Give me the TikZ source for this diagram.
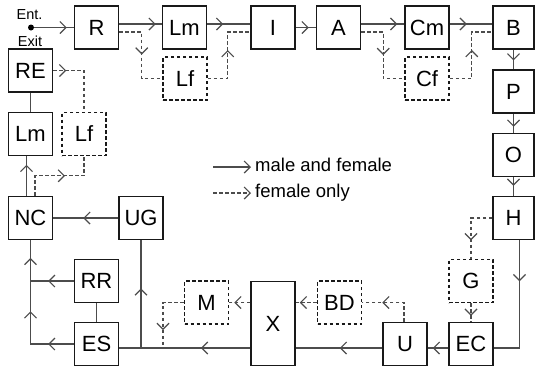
\documentclass[tikz,border=0pt]{standalone}
\usepackage{fontspec}
\setmainfont{Liberation Sans}
\usetikzlibrary{arrows.meta,decorations.markings,calc}
\newcommand{\mytip}{\arrow{Straight Barb[length=6pt,width=12pt]}}
\tikzset{
  box/.style={draw=black!90, line width=1.5pt, minimum width=44pt, minimum height=43pt, inner sep=0pt, font=\fontsize{22}{24}\selectfont},
  fbox/.style={box, dash pattern=on 3.5pt off 2.5pt},
  rbox/.style={box, minimum width=41pt},
  ml/.style={draw=black!70, line width=1.2pt},
  fl/.style={ml, dash pattern=on 3.5pt off 2.5pt},
  tipat/.style={postaction={decorate, decoration={markings, mark=at position #1 with {\mytip}}}},
  tipattwo/.style 2 args={postaction={decorate, decoration={markings, mark=at position #1 with {\mytip}, mark=at position #2 with {\mytip}}}},
  legtext/.style={anchor=west, inner sep=0pt, text height=13pt, text depth=3.5pt, font=\fontsize{18.5}{20}\selectfont},
  small/.style={inner sep=0pt, font=\fontsize{14.5}{16}\selectfont}
}
\begin{document}
\begin{tikzpicture}[x=1pt,y=-1pt]
\useasboundingbox (0,0) rectangle (535,368);
% entry
\node[circle, fill=black, inner sep=0pt, minimum size=6pt] (dot) at (31,27.5) {};
\node[small] (ent) at (29.5,14.5) {Ent.};
\node[small] (exit) at (30,41.5) {Exit};
% boxes
\node[box] (R) at (96.5,27.5) {R};
\node[box] (Lm1) at (184.5,27.5) {Lm};
\node[box] (I) at (273,27.5) {I};
\node[box] (A) at (338.5,27.5) {A};
\node[box] (Cm) at (427,27.5) {Cm};
\node[rbox] (B) at (513.5,27.5) {B};
\node[fbox] (Lf1) at (185,78.5) {Lf};
\node[fbox] (Cf) at (427,78.5) {Cf};
\node[rbox] (P) at (513.5,91.7) {P};
\node[rbox] (O) at (513.5,155) {O};
\node[rbox] (H) at (513.5,218) {H};
\node[fbox] (G) at (471,281) {G};
\node[box] (EC) at (471,344) {EC};
\node[box] (U) at (405,344) {U};
\node[fbox] (BD) at (339.5,302.5) {BD};
\node[box, minimum height=84pt] (X) at (273,323.7) {X};
\node[fbox] (M) at (206.5,302.5) {M};
\node[box] (ES) at (96.5,344) {ES};
\node[box] (RR) at (96.5,281) {RR};
\node[box] (UG) at (141,218) {UG};
\node[box] (NC) at (30.5,218) {NC};
\node[box] (Lm2) at (30.5,134) {Lm};
\node[fbox] (Lf2) at (84,134) {Lf};
\node[box] (RE) at (30.5,70.5) {RE};
% helper coordinates
\coordinate (bl) at ([yshift=-4pt]ES.east);
\coordinate (mj) at (163,0);
% top row solid
\draw[ml, tipat=-7pt] (dot) -- (R.west);
\draw[ml, tipat=-6pt] ([yshift=3.5pt]R.east) -- ([yshift=3.5pt]Lm1.west);
\draw[ml, tipat=16pt] ([yshift=3.5pt]Lm1.east) -- ([yshift=3.5pt]I.west);
\draw[ml, tipat=13pt] (I.east) -- (A.west);
\draw[ml, tipat=-7pt] ([yshift=3.5pt]A.east) -- ([yshift=3.5pt]Cm.west);
\draw[ml, tipat=17pt] ([yshift=3.5pt]Cm.east) -- ([yshift=3.5pt]B.west);
% top row dashed
\draw[fl, tipat=45pt] ([yshift=-4.5pt]R.east) -- ++(22.5,0) |- (Lf1.west);
\draw[fl, tipat=48.5pt] (Lf1.east) -- ++(20,0) |- ([yshift=-4.5pt]I.west);
\draw[fl, tipat=45pt] ([yshift=-4.5pt]A.east) -- ++(22,0) |- (Cf.west);
\draw[fl, tipat=50.5pt] (Cf.east) -- ++(22,0) |- ([yshift=-4.5pt]B.west);
% right column
\draw[ml, tipat=-9pt] (B.south) -- (P.north);
\draw[ml, tipat=-6pt] (P.south) -- (O.north);
\draw[ml, tipat=-10pt] (O.south) -- (H.north);
\draw[fl, tipat=43.5pt] (H.west) -| (G.north);
\draw[ml, tipat=41pt] ([xshift=6pt]H.south) |- ([yshift=-4pt]EC.east);
\draw[fl, tipat=-6pt] (G.south) -- (EC.north);
% bottom row
\draw[ml, tipat=-5pt] ([yshift=-4pt]EC.west) -- ([yshift=-4pt]U.east);
\draw[fl, tipat=41pt] ([xshift=-1pt]U.north) |- (BD.east);
\draw[fl, tipat=-4pt] (BD.west) -- (X.east |- BD.west);
\draw[ml, tipat=-44pt] ([yshift=-4pt]U.west) -- (X.east |- bl);
\draw[fl, tipat=-5pt] (X.west |- M.east) -- (M.east);
\draw[fl, tipat=-18pt] (M.west) -| (mj |- bl);
\draw[ml, tipat=49.3pt] (X.west |- bl) -- (bl);
\draw[ml, tipat=59.7pt] (UG.south |- bl) -- (UG.south);
\draw[ml, tipat=-30pt] (UG.west) -- (NC.east);
% left column
\draw[ml, tipattwo={25.7pt}{76pt}] (ES.west) -| (NC.south);
\draw[ml, tipattwo={25.7pt}{66.4pt}] (RR.west) -| (NC.south);
\draw[ml] (RR.south) -- (ES.north);
\draw[ml, tipat=31pt] ([xshift=-4pt]NC.north) -- ([xshift=-4pt]Lm2.south);
\draw[fl, tipat=50pt] ([xshift=4.5pt]NC.north) -- ++(0,-20) -| (Lf2.south);
\draw[ml] (Lm2.north) -- (RE.south);
\draw[fl, tipat=13pt] (RE.east) -| (Lf2.north);
% legend
\node[legtext] (leg1) at (255,167) {male and female};
\node[legtext] (leg2) at (255,193) {female only};
\draw[ml, -{Straight Barb[length=6pt,width=12pt]}] ([xshift=-42pt]leg1.west) -- ([xshift=-4pt]leg1.west);
\draw[fl, -{Straight Barb[length=6pt,width=12pt]}] ([xshift=-42pt]leg2.west) -- ([xshift=-4pt]leg2.west);
\end{tikzpicture}
\end{document}
